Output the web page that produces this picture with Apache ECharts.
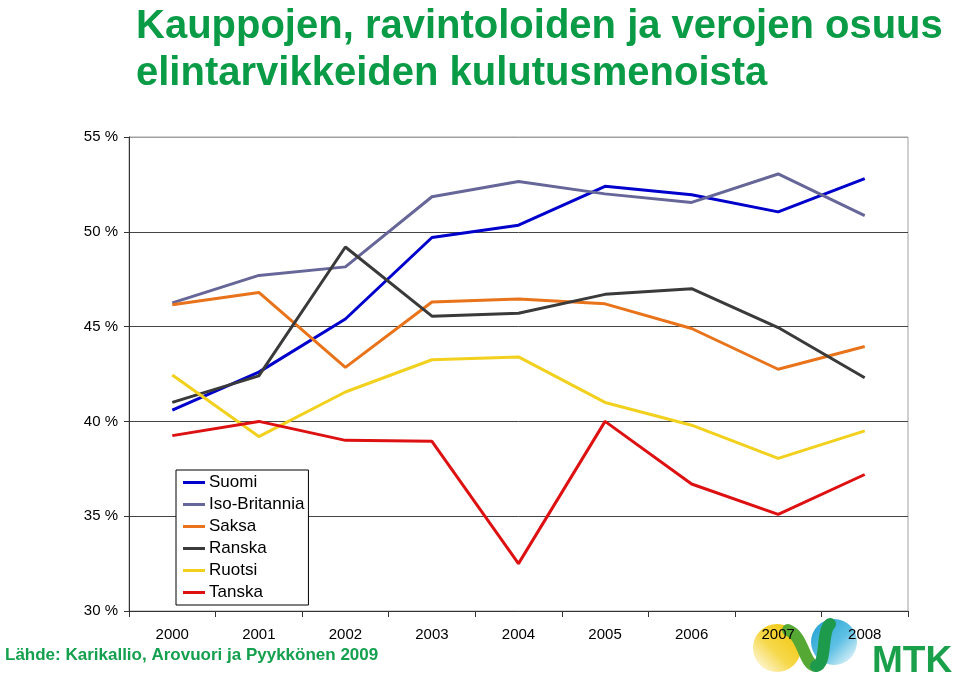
<!DOCTYPE html>
<html>
<head>
<meta charset="utf-8">
<script src="https://cdn.jsdelivr.net/npm/echarts@6/dist/echarts.min.js"></script>
<style>
html,body{margin:0;padding:0;background:#fff;}
#chart{width:960px;height:673px;}
</style>
</head>
<body>
<div id="chart"></div>
<script>
var years = ['2000','2001','2002','2003','2004','2005','2006','2007','2008'];
var suomi        = [40.6, 42.6, 45.4, 49.7, 50.35, 52.4, 51.95, 51.05, 52.8];
var isoBritannia = [46.25, 47.7, 48.15, 51.85, 52.65, 52.0, 51.55, 53.05, 50.85];
var saksa        = [46.15, 46.8, 42.85, 46.3, 46.45, 46.2, 44.9, 42.75, 43.95];
var ranska       = [41.0, 42.4, 49.2, 45.55, 45.7, 46.7, 47.0, 44.95, 42.3];
var ruotsi       = [42.45, 39.2, 41.55, 43.25, 43.4, 41.0, 39.8, 38.05, 39.5];
var tanska       = [39.25, 40.0, 39.0, 38.95, 32.5, 40.0, 36.7, 35.1, 37.2];
var seriesNames  = ['Suomi','Iso-Britannia','Saksa','Ranska','Ruotsi','Tanska'];
var seriesData   = [suomi, isoBritannia, saksa, ranska, ruotsi, tanska];
var seriesColors = ['#0000CC','#666699','#E8731A','#3A3A3A','#F2D01E','#DD1111'];
var yTicks = [30, 35, 40, 45, 50, 55];

var titleText = 'Kauppojen, ravintoloiden ja verojen osuus\nelintarvikkeiden kulutusmenoista';
var sourceText = 'Lähde: Karikallio, Arovuori ja Pyykkönen 2009';

var chart = echarts.init(document.getElementById('chart'), null, {renderer:'canvas'});

var series = seriesNames.map(function(n, i){
  return {
    name: n, type: 'line', data: seriesData[i],
    symbol: 'none', showSymbol: false,
    lineStyle: {color: seriesColors[i], width: 3},
    itemStyle: {color: seriesColors[i]},
    z: 3
  };
});

var option = {
  animation: false,
  backgroundColor: '#fff',
  textStyle: {fontFamily: 'Liberation Sans, Arial, sans-serif'},
  title: {
    text: titleText,
    left: 131, top: -2,
    textStyle: {
      fontFamily: "'Liberation Sans Narrow', 'Arial Narrow', 'Liberation Sans', sans-serif",
      fontWeight: 'bold', fontSize: 40, lineHeight: 47, color: '#0A9B47'
    }
  },
  grid: {
    left: 129, right: 52, top: 137, bottom: 62,
    show: true, borderColor: '#A0A0A0', borderWidth: 1, containLabel: false
  },
  legend: {
    orient: 'vertical',
    left: 176, top: 470,
    padding: [4, 4, 4, 7],
    icon: 'rect',
    itemWidth: 22, itemHeight: 3, itemGap: 5,
    borderColor: '#000', borderWidth: 1, borderRadius: 0,
    backgroundColor: '#fff',
    textStyle: {fontSize: 17, lineHeight: 17, color: '#000', fontFamily: 'Liberation Sans, Arial, sans-serif', padding: [0, 0, 0, -1]},
    data: seriesNames
  },
  xAxis: {
    type: 'category', data: years, boundaryGap: true, z: 10,
    axisLine: {lineStyle: {color: '#333', width: 1}},
    axisTick: {show: true, alignWithLabel: false, length: 6, lineStyle: {color: '#333'}},
    axisLabel: {fontSize: 15, color: '#000', margin: 16, fontFamily: 'Liberation Sans, Arial, sans-serif'},
    splitLine: {show: false}
  },
  yAxis: {
    type: 'value', min: 30, max: 55, interval: 5,
    axisLine: {show: true, lineStyle: {color: '#333', width: 1}},
    axisTick: {show: true, length: 5, lineStyle: {color: '#333'}},
    axisLabel: {fontSize: 15, color: '#000', margin: 11, formatter: '{value} %', fontFamily: 'Liberation Sans, Arial, sans-serif'},
    splitLine: {show: true, lineStyle: {color: ['#444','#444','#444','#444','#444','#A0A0A0'], width: 1}}
  },
  graphic: [
    {type: 'text', left: 5, top: 647, z: 5,
     style: {text: sourceText, fill: '#14A04E', font: "bold 17px 'Liberation Sans', Arial, sans-serif"}},
    {type: 'circle', z: 1, shape: {cx: 777, cy: 648, r: 24},
     style: {fill: new echarts.graphic.LinearGradient(1, 0, 0, 1, [{offset:0,color:'#F2C200'},{offset:0.55,color:'#F6D84A'},{offset:1,color:'#FFFFFF'}])}},
    {type: 'circle', z: 1, shape: {cx: 834, cy: 642, r: 23},
     style: {fill: new echarts.graphic.LinearGradient(0, 0, 1, 1, [{offset:0,color:'#1E9FD0'},{offset:0.55,color:'#5EC0E4'},{offset:1,color:'#FFFFFF'}])}},
    {type: 'bezierCurve', z: 2,
     shape: {x1: 788, y1: 630, cpx1: 804, cpy1: 636, cpx2: 804, cpy2: 666, x2: 816, y2: 666},
     style: {fill: null, lineWidth: 12, lineCap: 'round', stroke: '#56A834'}},
    {type: 'bezierCurve', z: 2,
     shape: {x1: 816, y1: 666, cpx1: 827, cpy1: 665, cpx2: 821, cpy2: 632, x2: 830, y2: 624},
     style: {fill: null, lineWidth: 12, lineCap: 'round', stroke: '#1E9A4C'}},
    {type: 'text', left: 872, top: 643, z: 5,
     style: {text: 'MTK', fill: '#1AA04A', font: "bold 37px 'Liberation Sans', Arial, sans-serif"}}
  ],
  series: series
};
chart.setOption(option);
</script>
</body>
</html>
